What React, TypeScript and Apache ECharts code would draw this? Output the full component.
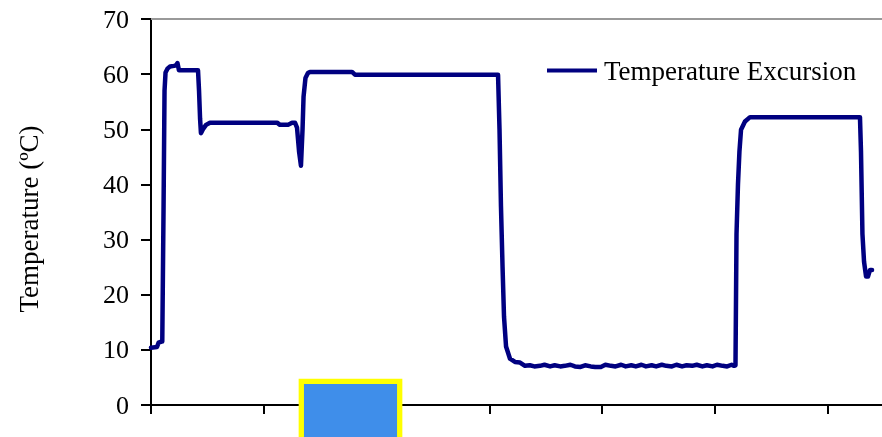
import React, { useEffect, useRef } from "react";
import * as echarts from "echarts";

const seriesName = "Temperature Excursion";
const yAxisTitle = "Temperature (ºC)";
const yTicks = [0, 10, 20, 30, 40, 50, 60, 70];

// time (arbitrary units, ticks every 10) and temperature (ºC)
const timeValues = [
  0, 0.53, 0.67, 0.93, 1.0, 1.11, 1.2, 1.29, 1.46, 1.69, 2.04, 2.22, 2.35, 2.48,
  4.17, 4.26, 4.35, 4.43, 4.61, 4.88, 5.23, 11.18, 11.44, 12.15, 12.51, 12.77,
  12.95, 13.13, 13.3, 13.44, 13.53, 13.7, 13.92, 14.1, 17.83, 18.09, 30.78,
  30.91, 31.04, 31.18, 31.31, 31.49, 31.84, 32.28, 32.73, 33.17,
  33.6, 34.0, 34.5, 34.9, 35.4, 35.8, 36.3, 36.7, 37.2, 37.6, 38.1, 38.5, 39.0,
  39.4, 39.9, 40.3, 40.8, 41.2, 41.7, 42.1, 42.6, 43.0, 43.5, 43.9, 44.4, 44.8,
  45.3, 45.7, 46.2, 46.6, 47.1, 47.5, 48.0, 48.4, 48.9, 49.3, 49.8, 50.2, 50.7,
  51.1, 51.5, 51.71,
  51.84, 51.93, 52.06, 52.19, 52.33, 52.68, 53.13, 62.88, 62.97, 63.1, 63.24,
  63.42, 63.59, 63.77, 63.95,
];
const temperatures = [
  10.4, 10.5, 11.3, 11.5, 11.5, 35, 57, 60.3, 61.0, 61.4, 61.5, 61.6, 62.0, 60.7,
  60.7, 57, 52, 49.3, 50.0, 50.8, 51.2, 51.2, 50.8, 50.8, 51.2, 51.2,
  50.3, 46, 43.4, 50, 55.9, 59.3, 60.2, 60.4, 60.4, 59.9, 59.9,
  50, 36, 25, 16, 10.6, 8.4, 7.8, 7.7, 7.1,
  7.2, 7.0, 7.1, 7.3, 7.0, 7.2, 7.0, 7.1, 7.3, 7.0, 6.9, 7.2, 7.0,
  6.9, 6.9, 7.3, 7.1, 7.0, 7.3, 7.0, 7.2, 7.0, 7.3, 7.0, 7.2, 7.0,
  7.3, 7.1, 7.0, 7.3, 7.0, 7.2, 7.1, 7.3, 7.0, 7.2, 7.0, 7.3, 7.1,
  7.0, 7.3, 7.1,
  7.2, 31, 40, 46, 49.9, 51.4, 52.2, 52.2, 46, 31, 26,
  23.3, 23.3, 24.5, 24.5,
];

const FONT = "'Liberation Serif', 'Times New Roman', serif";

export default function App() {
  const ref = useRef<HTMLDivElement>(null);
  useEffect(() => {
    if (!ref.current) return;
    document.body.style.overflow = "hidden";
    const chart = echarts.init(ref.current, undefined, { renderer: "svg" });
    const data = timeValues.map((t, i) => [t, temperatures[i]]);
    chart.setOption({
      animation: false,
      grid: { left: 151, top: 19, width: 789.25, height: 386 },
      legend: {
        data: [seriesName],
        left: 542,
        top: 52,
        icon: "rect",
        itemWidth: 50,
        itemHeight: 4,
        textStyle: { fontFamily: FONT, fontSize: 27, color: "#000", padding: [0, 0, 0, 2] },
      },
      xAxis: [
        {
          type: "value",
          min: 0,
          max: 70,
          interval: 10,
          axisLine: { lineStyle: { color: "#000", width: 2 } },
          axisTick: { show: true, length: 9, lineStyle: { color: "#000", width: 2 } },
          axisLabel: { show: false },
          splitLine: { show: false },
        },
        {
          type: "value",
          position: "top",
          min: 0,
          max: 70,
          interval: 10,
          axisLine: { lineStyle: { color: "#999", width: 2 } },
          axisTick: { show: false },
          axisLabel: { show: false },
          splitLine: { show: false },
        },
      ],
      yAxis: {
        type: "value",
        min: yTicks[0],
        max: yTicks[yTicks.length - 1],
        interval: 10,
        axisLine: { show: true, lineStyle: { color: "#000", width: 2 } },
        axisTick: { show: true, length: 10, lineStyle: { color: "#000", width: 2 } },
        axisLabel: { margin: 22, fontFamily: FONT, fontSize: 26, color: "#000" },
        splitLine: { show: false },
      },
      graphic: [
        {
          type: "text",
          x: 29,
          y: 219,
          rotation: Math.PI / 2,
          style: {
            text: yAxisTitle,
            font: `27px ${FONT}`,
            fill: "#000",
            textAlign: "center",
            textVerticalAlign: "middle",
          },
        },
        {
          type: "rect",
          z: 100,
          shape: { x: 301.3, y: 381.3, width: 98.4, height: 70 },
          style: { fill: "#3F8EEA", stroke: "#FFFF00", lineWidth: 5.3 },
        },
      ],
      series: [
        {
          name: seriesName,
          type: "line",
          xAxisIndex: 0,
          data,
          symbol: "none",
          color: "#000080",
          lineStyle: { color: "#000080", width: 4.5, join: "round", cap: "round" },
        },
      ],
    });
    return () => chart.dispose();
  }, []);
  return (
    <div
      ref={ref}
      style={{ position: "fixed", left: 0, top: 0, width: 960, height: 437 }}
    />
  );
}
